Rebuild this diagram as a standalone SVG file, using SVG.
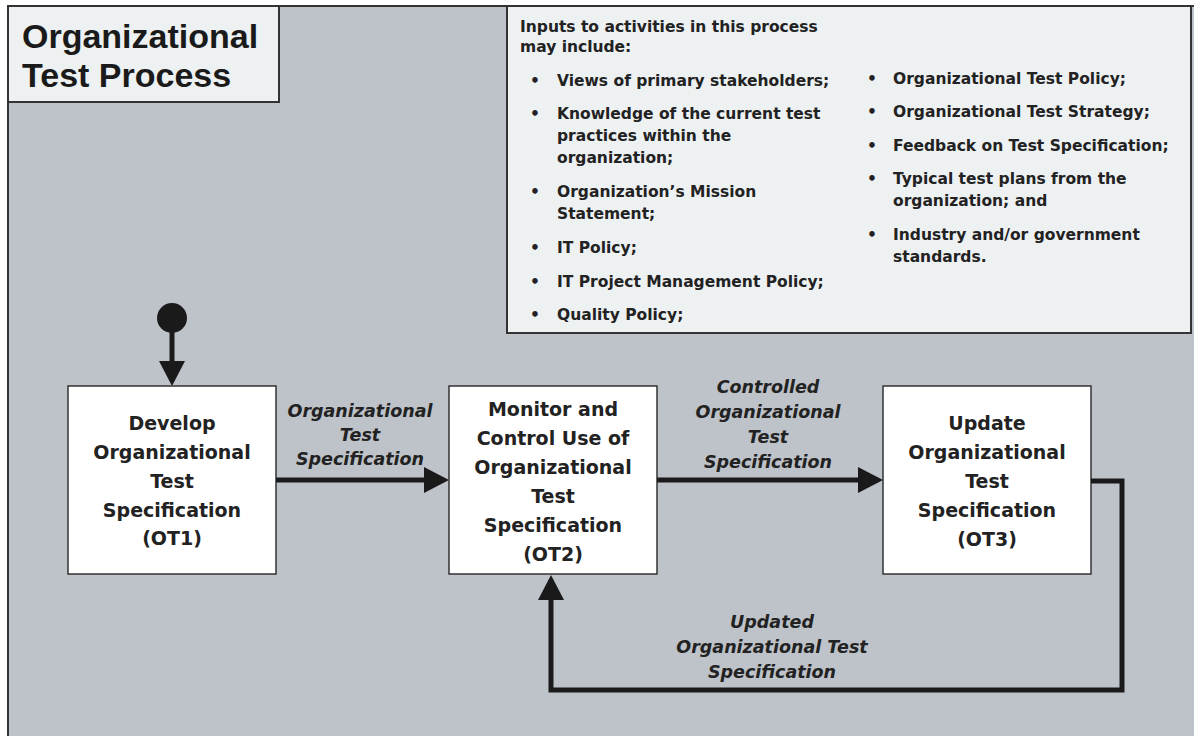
<svg xmlns="http://www.w3.org/2000/svg" width="1194" height="736" viewBox="0 0 1194 736">
  <style>
    .frame { fill: #bec2c9; stroke: #333333; stroke-width: 2; }
    .panel { fill: #eef1f2; stroke: #333333; stroke-width: 2; }
    .node { fill: #ffffff; stroke: #333333; stroke-width: 1.5; }
    .title { font-family: "Liberation Sans", Arial, sans-serif; font-weight: 700; font-size: 34px; fill: #1a1a1a; }
    .ntext { font-family: "DejaVu Sans", Verdana, sans-serif; font-weight: 700; font-size: 19px; fill: #222222; text-anchor: middle; }
    .ltext { font-family: "DejaVu Sans", Verdana, sans-serif; font-weight: 700; font-style: italic; font-size: 17.5px; fill: #222222; text-anchor: middle; }
    .itext { font-family: "DejaVu Sans", Verdana, sans-serif; font-weight: 700; font-size: 15.5px; fill: #222222; }
    .conn { fill: none; stroke: #1a1a1a; stroke-width: 5; stroke-linejoin: miter; }
  </style>
  <defs>
    <marker id="arrow" viewBox="0 0 25 26" markerWidth="25" markerHeight="26" refX="20" refY="13" orient="auto" markerUnits="userSpaceOnUse">
      <path d="M0,0 L25,13 L0,26 z" fill="#1a1a1a"/>
    </marker>
  </defs>

  <rect width="1194" height="736" fill="#ffffff"/>
  <rect class="frame" x="8" y="6" width="1200" height="740"/>

  <g id="title">
    <rect class="panel" x="8" y="6" width="271" height="96"/>
    <text class="title" x="22" y="48">Organizational</text>
    <text class="title" x="22" y="87">Test Process</text>
  </g>

  <g id="inputs">
    <rect class="panel" x="507" y="6" width="684" height="327"/>
    <text class="itext" x="520" y="32">Inputs to activities in this process</text>
    <text class="itext" x="520" y="52">may include:</text>
    <g>
      <text class="itext" x="530" y="86">•</text>
      <text class="itext" x="557" y="86">Views of primary stakeholders;</text>
      <text class="itext" x="530" y="119">•</text>
      <text class="itext" x="557" y="119">Knowledge of the current test</text>
      <text class="itext" x="557" y="141">practices within the</text>
      <text class="itext" x="557" y="163">organization;</text>
      <text class="itext" x="530" y="197">•</text>
      <text class="itext" x="557" y="197">Organization’s Mission</text>
      <text class="itext" x="557" y="219">Statement;</text>
      <text class="itext" x="530" y="253">•</text>
      <text class="itext" x="557" y="253">IT Policy;</text>
      <text class="itext" x="530" y="287">•</text>
      <text class="itext" x="557" y="287">IT Project Management Policy;</text>
      <text class="itext" x="530" y="320">•</text>
      <text class="itext" x="557" y="320">Quality Policy;</text>
    </g>
    <g>
      <text class="itext" x="867" y="84">•</text>
      <text class="itext" x="893" y="84">Organizational Test Policy;</text>
      <text class="itext" x="867" y="117">•</text>
      <text class="itext" x="893" y="117">Organizational Test Strategy;</text>
      <text class="itext" x="867" y="151">•</text>
      <text class="itext" x="893" y="151">Feedback on Test Specification;</text>
      <text class="itext" x="867" y="184">•</text>
      <text class="itext" x="893" y="184">Typical test plans from the</text>
      <text class="itext" x="893" y="206">organization; and</text>
      <text class="itext" x="867" y="240">•</text>
      <text class="itext" x="893" y="240">Industry and/or government</text>
      <text class="itext" x="893" y="262">standards.</text>
    </g>
  </g>

  <g id="start">
    <circle cx="172" cy="318" r="15" fill="#1a1a1a"/>
  </g>

  <g id="OT1">
    <rect class="node" x="68" y="386" width="208" height="188"/>
    <text class="ntext" x="172" y="430">Develop</text>
    <text class="ntext" x="172" y="459">Organizational</text>
    <text class="ntext" x="172" y="488">Test</text>
    <text class="ntext" x="172" y="517">Specification</text>
    <text class="ntext" x="172" y="545">(OT1)</text>
  </g>

  <g id="OT2">
    <rect class="node" x="449" y="386" width="208" height="188"/>
    <text class="ntext" x="553" y="416">Monitor and</text>
    <text class="ntext" x="553" y="445">Control Use of</text>
    <text class="ntext" x="553" y="474">Organizational</text>
    <text class="ntext" x="553" y="503">Test</text>
    <text class="ntext" x="553" y="532">Specification</text>
    <text class="ntext" x="553" y="561">(OT2)</text>
  </g>

  <g id="OT3">
    <rect class="node" x="883" y="386" width="208" height="188"/>
    <text class="ntext" x="987" y="430">Update</text>
    <text class="ntext" x="987" y="459">Organizational</text>
    <text class="ntext" x="987" y="488">Test</text>
    <text class="ntext" x="987" y="517">Specification</text>
    <text class="ntext" x="987" y="546">(OT3)</text>
  </g>

  <g id="connectors">
    <path class="conn" d="M172,330 V381" marker-end="url(#arrow)"/>
    <path class="conn" d="M276,480 H444" marker-end="url(#arrow)"/>
    <path class="conn" d="M657,480 H878" marker-end="url(#arrow)"/>
    <path class="conn" d="M1091,481 H1122 V690 H551 V580" marker-end="url(#arrow)"/>
    <text class="ltext" x="360" y="417">Organizational</text>
    <text class="ltext" x="360" y="441">Test</text>
    <text class="ltext" x="360" y="465">Specification</text>
    <text class="ltext" x="768" y="393">Controlled</text>
    <text class="ltext" x="768" y="418">Organizational</text>
    <text class="ltext" x="768" y="443">Test</text>
    <text class="ltext" x="768" y="468">Specification</text>
    <text class="ltext" x="772" y="628">Updated</text>
    <text class="ltext" x="772" y="653">Organizational Test</text>
    <text class="ltext" x="772" y="678">Specification</text>
  </g>
</svg>
